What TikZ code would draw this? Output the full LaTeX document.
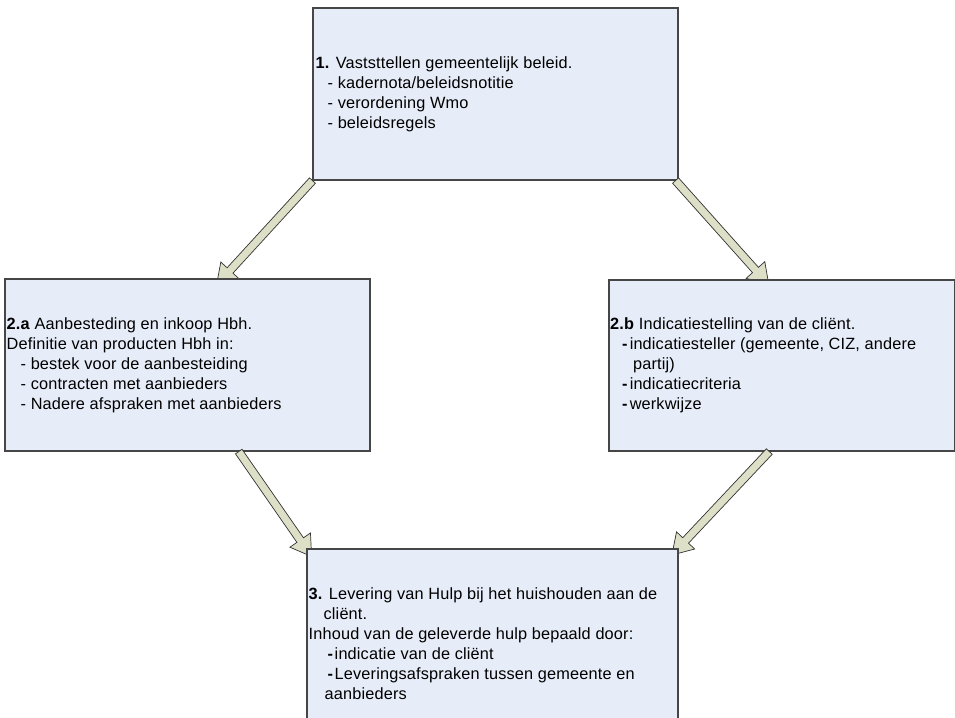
\documentclass[tikz,border=0pt]{standalone}
\usepackage{fontspec}
\setmainfont{Liberation Sans}[LetterSpace=1]
\usetikzlibrary{calc}
\definecolor{boxfill}{RGB}{231,237,248}
\definecolor{boxline}{RGB}{70,70,70}
\definecolor{arrfill}{RGB}{221,224,199}
\definecolor{arrline}{RGB}{50,50,50}
\tikzset{
  box/.style={draw=boxline, fill=boxfill, line width=1.1pt, rectangle, inner sep=0pt},
  boxtext/.style={anchor=west, align=left, inner sep=0pt, font=\fontsize{16.3}{20}\selectfont},
  arrowstyle/.style={fill=arrfill, draw=arrline, line width=0.7pt, line join=miter}
}
\newcommand{\barrow}[2]{%
  \path ($(#2)!20pt!(#1)$) coordinate (bm);
  \filldraw[arrowstyle] ($(#1)!4pt!90:(#2)$) -- ($(bm)!4pt!-90:(#1)$) -- ($(bm)!12.5pt!-90:(#1)$) -- (#2) -- ($(bm)!12.5pt!90:(#1)$) -- ($(bm)!4pt!90:(#1)$) -- ($(#1)!4pt!-90:(#2)$) -- cycle;}
\begin{document}
\begin{tikzpicture}[x=1pt,y=-1pt]
\useasboundingbox (0,0) rectangle (955,717);
\fill[white] (0,0) rectangle (955,717);
% box 1
\node[box, minimum width=365pt, minimum height=172pt] (b1) at (495.5,94) {};
\node[boxtext] (t1) at ($(b1.west)+(3,0)$) {\textbf{1.} Vaststtellen gemeentelijk beleid.\\
\hspace*{12pt}- kadernota/beleidsnotitie\\
\hspace*{12pt}- verordening Wmo\\
\hspace*{12pt}- beleidsregels};
% arrows from box 1
\coordinate (a1t) at (b1.south west);
\coordinate (a1h) at (216.5,285.2);
\coordinate (a2t) at ($(b1.south east)+(-3,0)$);
\coordinate (a2h) at (768.8,284.9);
\barrow{a1t}{a1h}
\barrow{a2t}{a2h}
% box 2a
\node[box, minimum width=365pt, minimum height=172pt] (b2a) at (187.5,365) {};
\node[boxtext] (t2a) at ($(b2a.west)+(2,0)$) {\textbf{2.a} Aanbesteding en inkoop Hbh.\\
Definitie van producten Hbh in:\\
\hspace*{14pt}- bestek voor de aanbesteiding\\
\hspace*{14pt}- contracten met aanbieders\\
\hspace*{14pt}- Nadere afspraken met aanbieders};
% box 2b
\node[box, minimum width=345.5pt, minimum height=171pt] (b2b) at (781.75,365.5) {};
\node[boxtext] (t2b) at ($(b2b.west)+(1.5,0)$) {\textbf{2.b} Indicatiestelling van de cliënt.\\
\hspace*{12pt}\textbf{-}\hspace{2pt}indicatiesteller (gemeente, CIZ, andere\\
\hspace*{23pt}partij)\\
\hspace*{12pt}\textbf{-}\hspace{2pt}indicatiecriteria\\
\hspace*{12pt}\textbf{-}\hspace{2pt}werkwijze};
% arrows to box 3
\coordinate (a3t) at ($(b2a.south west)!0.64!(b2a.south east)$);
\coordinate (a3h) at (311.6,556.5);
\coordinate (a4t) at ($(b2b.south west)!0.464!(b2b.south east)$);
\coordinate (a4h) at (671.9,555);
\barrow{a3t}{a3h}
\barrow{a4t}{a4h}
% box 3
\node[box, minimum width=371pt, minimum height=190pt] (b3) at (492.5,644) {};
\node[boxtext] (t3) at ($(b3.west)+(2,0)$) {\textbf{3.} Levering van Hulp bij het huishouden aan de\\
\hspace*{15pt}cliënt.\\
Inhoud van de geleverde hulp bepaald door:\\
\hspace*{19pt}\textbf{-}\hspace{1.5pt}indicatie van de cliënt\\
\hspace*{19pt}\textbf{-}\hspace{1.5pt}Leveringsafspraken tussen gemeente en\\
\hspace*{16pt}aanbieders};
\end{tikzpicture}
\end{document}
